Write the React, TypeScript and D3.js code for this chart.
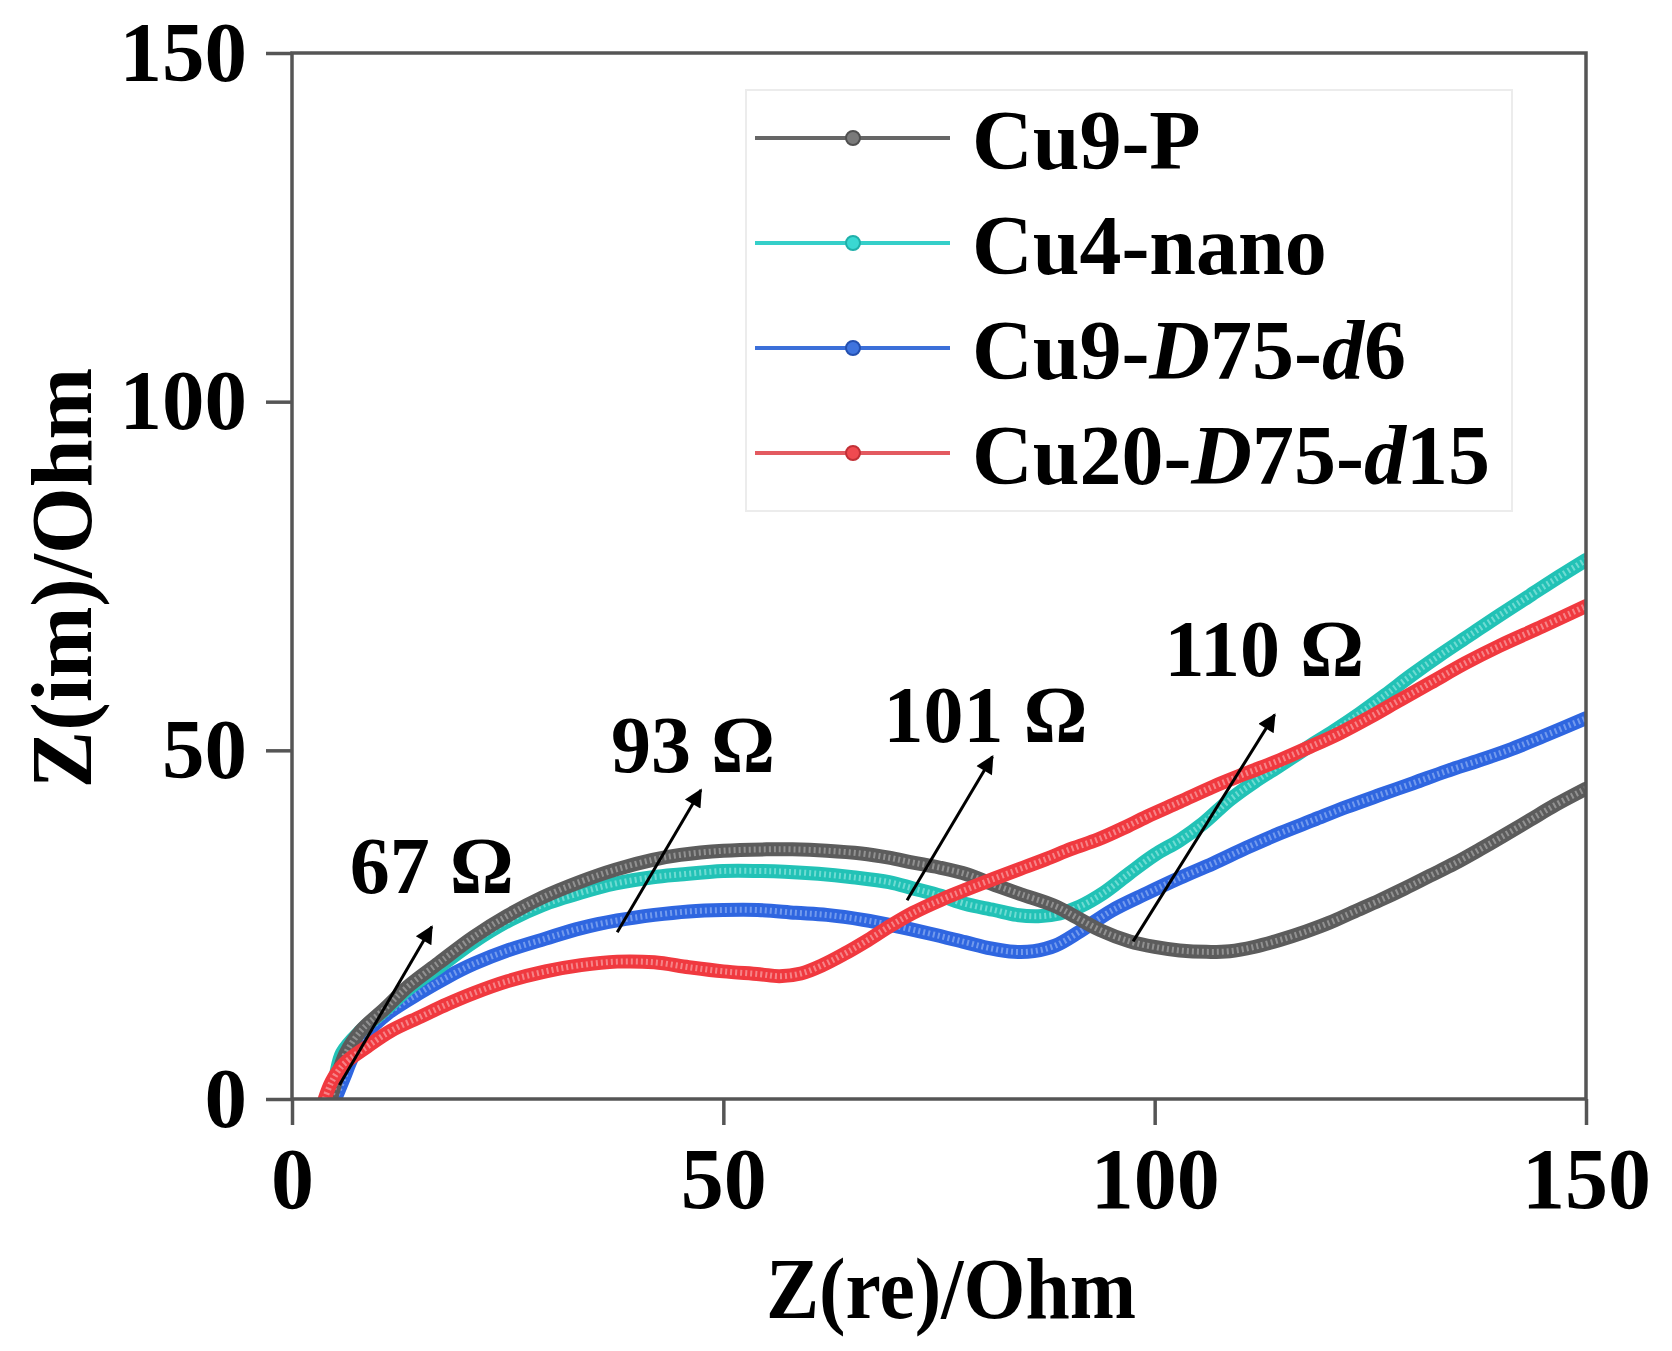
import * as d3 from "d3";
import { useEffect, useRef } from "react";

// ---- data (Z(re), Z(im)) in Ohm ----
const seriesNames = ["Cu9-P", "Cu4-nano", "Cu9-D75-d6", "Cu20-D75-d15"];

const cu9P: [number, number][] = [
  [4.5, 0], [5.2, 3], [6.2, 6.5], [8, 9.8], [10.8, 13], [13.5, 16.2], [17, 19.5],
  [21, 23.2], [25, 26.3], [29, 28.9], [33.5, 31.2], [37.5, 32.9], [41.8, 34.3],
  [45, 35.0], [50, 35.6], [55, 35.8], [58, 35.8], [62, 35.6], [66, 35.2], [69.2, 34.6],
  [72, 33.9], [75, 33.2], [78.3, 32.2], [81, 30.9], [84.4, 29.4], [88.6, 27.6],
  [91, 26], [93.7, 24.2], [97.1, 22.6], [100, 21.8], [102.9, 21.3], [106, 21.1],
  [108.7, 21.2], [111.5, 21.8], [114.5, 22.8], [117.5, 24], [120.3, 25.3], [123, 26.8],
  [126.1, 28.5], [129, 30.2], [131.9, 32], [134.8, 33.8], [137.7, 35.8], [140.5, 37.8],
  [143.5, 40], [146.5, 42.2], [150, 44.5],
];

const cu4Nano: [number, number][] = [
  [4.2, 0], [5, 3], [5.8, 6.6], [8, 9.8], [10.8, 12.8], [13.5, 15.8], [17, 18.9],
  [21, 22.5], [25.3, 25.7], [29, 27.8], [33.5, 29.6], [37.5, 30.9], [41.8, 31.8],
  [45, 32.2], [50, 32.7], [54.2, 32.7], [57.1, 32.6], [61, 32.3], [65, 31.8],
  [69.2, 31.1], [72, 30.2], [75.3, 29.1], [78, 28.0], [81.4, 27.1], [84, 26.4],
  [86.5, 26.2], [89, 26.6], [91.3, 27.6], [94, 29.5], [97.1, 32.4], [100, 35],
  [102.9, 37.1], [105.6, 39.5], [108.7, 42.9], [111.6, 45.5], [114.5, 47.8],
  [117.7, 50.4], [120.8, 52.8], [123.8, 55.3], [126.8, 58.0], [129.8, 60.8],
  [133, 63.6], [136.5, 66.5], [140, 69.4], [143.5, 72.2], [147, 75], [150, 77.3],
];

const cu9D75d6: [number, number][] = [
  [5, 0], [6, 3], [7, 6], [8.7, 9.5], [11, 12.2], [14.9, 15.3], [18, 17.5],
  [21.1, 19.4], [25, 21.3], [29.4, 23], [33.5, 24.5], [37.7, 25.6], [42, 26.4],
  [46, 26.9], [50, 27.1], [54, 27.1], [58.4, 26.7], [62, 26.4], [66.2, 25.7],
  [70, 24.8], [74, 23.7], [78, 22.5], [81, 21.6], [83.7, 21.1], [86, 21.2],
  [88.5, 22.0], [91.3, 24.0], [95, 27.0], [99.1, 29.5], [102.9, 31.7], [106.8, 33.8],
  [110.6, 36], [114.5, 38.1], [118.4, 40], [122.3, 41.9], [126.1, 43.6], [130, 45.3],
  [133.8, 47], [137.7, 48.6], [141.4, 50.2], [145, 52.0], [150, 54.6],
];

const cu20D75d15: [number, number][] = [
  [3.8, 0], [4.6, 2.5], [6, 5], [8.7, 7.5], [11.5, 9.8], [14.9, 11.8], [18, 13.6],
  [21.1, 15.2], [25, 16.9], [29.4, 18.3], [33.5, 19.2], [37.7, 19.7], [42, 19.6],
  [46, 18.9], [50, 18.3], [54.2, 17.9], [56.5, 17.6], [59, 18.0], [61.5, 19.2],
  [64, 20.8], [66.5, 22.6], [69.2, 24.7], [72, 26.7], [75.3, 28.6], [78.3, 30.1],
  [81.4, 31.6], [84.4, 33.0], [87.4, 34.4], [90.4, 35.9], [93.4, 37.2], [96.3, 38.8],
  [99.1, 40.5], [102.9, 42.6], [106.8, 44.8], [110.6, 46.7], [114.5, 48.6],
  [118, 50.5], [121.5, 52.5], [125, 54.8], [128.4, 57.2], [132, 59.7], [136, 62.5],
  [140, 65.0], [145, 67.8], [150, 70.7],
];

const xTicks = [0, 50, 100, 150];
const yTicks = [0, 50, 100, 150];
const minorTicks = [25, 75, 125];

// annotation labels (position in data units) and arrows [tail, head]
const annoLabels = ["67 Ω", "93 Ω", "101 Ω", "110 Ω"];
const annoPos: [number, number][] = [[16.2, 29.5], [46.5, 46.9], [80.4, 51.2], [112.7, 60.6]];
const arrowTail: [number, number][] = [[5.5, 2.0], [37.7, 23.9], [71.3, 28.5], [97.5, 22.6]];
const arrowHead: [number, number][] = [[16.2, 24.7], [47.4, 44.3], [81.2, 49.1], [113.9, 55.1]];

const FONT = "'Liberation Serif', 'Times New Roman', serif";

export default function App() {
  const svgRef = useRef<SVGSVGElement | null>(null);
  useEffect(() => {
    if (!svgRef.current) return;
    drawNyquist(svgRef.current);
  }, []);
  return (
    <svg
      ref={svgRef}
      width={1672}
      height={1351}
      style={{ position: "absolute", left: 0, top: 0, background: "#fff" }}
    />
  );
}

function drawNyquist(svgElement: SVGSVGElement) {
  const svg = d3.select(svgElement);
  svg.selectAll("*").remove();

  const left = 292, right = 1586, top = 53, bottom = 1099;

  const x = d3.scaleLinear().domain([0, 150]).range([left, right]);
  const y = d3.scaleLinear().domain([0, 150]).range([bottom, top]);

  const axisColor = "#555";

  // clip
  svg.append("defs").append("clipPath").attr("id", "plotclip")
    .append("rect").attr("x", left).attr("y", top)
    .attr("width", right - left).attr("height", bottom - top);

  // --- curves ---
  const line = d3.line<[number, number]>()
    .x(d => x(d[0]))
    .y(d => y(d[1]))
    .curve(d3.curveCatmullRom.alpha(0.5));

  const curves = [
    { data: cu9D75d6, color: "#2f66e0", light: "#8fb0f2" },
    { data: cu4Nano, color: "#22c2b6", light: "#8fe6de" },
    { data: cu9P, color: "#5c5c5c", light: "#a8a8a8" },
    { data: cu20D75d15, color: "#f0393f", light: "#f8a3a6" },
  ];

  const plot = svg.append("g").attr("clip-path", "url(#plotclip)");
  curves.forEach(c => {
    plot.append("path").datum(c.data)
      .attr("d", line)
      .attr("fill", "none")
      .attr("stroke", c.color)
      .attr("stroke-width", 14)
      .attr("stroke-linecap", "round")
      .attr("stroke-linejoin", "round");
    // marker texture (dense open circles)
    plot.append("path").datum(c.data)
      .attr("d", line)
      .attr("fill", "none")
      .attr("stroke", c.light)
      .attr("stroke-width", 6)
      .attr("stroke-dasharray", "2 3")
      .attr("opacity", 0.7);
  });

  // --- frame ---
  svg.append("rect")
    .attr("x", left).attr("y", top)
    .attr("width", right - left).attr("height", bottom - top)
    .attr("fill", "none").attr("stroke", axisColor).attr("stroke-width", 3.5);

  // --- X axis ---
  const xAxis = svg.append("g").attr("transform", `translate(0,${bottom})`);
  xAxis.call(
    d3.axisBottom(x).tickValues(minorTicks).tickSize(14).tickFormat(() => "")
  );
  xAxis.call(
    d3.axisBottom(x).tickValues(xTicks).tickSize(26).tickPadding(22)
      .tickFormat(d => String(d))
  );
  xAxis.selectAll(".domain").remove();
  xAxis.selectAll("line").attr("stroke", axisColor).attr("stroke-width", 3.5);
  xAxis.selectAll("text")
    .attr("dy", "0.71em")
    .style("font-family", FONT)
    .style("font-weight", "bold")
    .style("font-size", "86px")
    .style("fill", "#000");

  // --- Y axis ---
  const yAxis = svg.append("g").attr("transform", `translate(${left},0)`);
  yAxis.call(
    d3.axisLeft(y).tickValues(minorTicks).tickSize(13).tickFormat(() => "")
  );
  yAxis.call(
    d3.axisLeft(y).tickValues(yTicks).tickSize(26).tickPadding(19)
      .tickFormat(d => String(d))
  );
  yAxis.selectAll(".domain").remove();
  yAxis.selectAll("line").attr("stroke", axisColor).attr("stroke-width", 3.5);
  yAxis.selectAll("text")
    .style("font-family", FONT)
    .style("font-weight", "bold")
    .style("font-size", "85px")
    .style("fill", "#000");

  // --- axis titles ---
  svg.append("text")
    .attr("x", 951)
    .attr("y", 1318)
    .attr("text-anchor", "middle")
    .attr("textLength", 370)
    .attr("lengthAdjust", "spacingAndGlyphs")
    .style("font-family", FONT)
    .style("font-weight", "bold")
    .style("font-size", "86px")
    .text("Z(re)/Ohm");

  svg.append("text")
    .attr("transform", `translate(91,${(top + bottom) / 2 + 2}) rotate(-90)`)
    .attr("text-anchor", "middle")
    .style("font-family", FONT)
    .style("font-weight", "bold")
    .style("font-size", "86px")
    .text("Z(im)/Ohm");

  // --- annotations ---
  svg.append("defs").append("marker")
    .attr("id", "arrowhead")
    .attr("viewBox", "0 0 10 10")
    .attr("refX", 9).attr("refY", 5)
    .attr("markerWidth", 7).attr("markerHeight", 6)
    .attr("markerUnits", "strokeWidth")
    .attr("orient", "auto")
    .append("path").attr("d", "M0,0 L10,5 L0,10 Z").attr("fill", "#000");

  arrowTail.forEach((t, i) => {
    svg.append("line")
      .attr("x1", x(t[0])).attr("y1", y(t[1]))
      .attr("x2", x(arrowHead[i][0])).attr("y2", y(arrowHead[i][1]))
      .attr("stroke", "#000").attr("stroke-width", 3)
      .attr("marker-end", "url(#arrowhead)");
  });

  annoLabels.forEach((label, i) => {
    svg.append("text")
      .attr("x", x(annoPos[i][0]))
      .attr("y", y(annoPos[i][1]))
      .attr("text-anchor", "middle")
      .style("font-family", FONT)
      .style("font-weight", "bold")
      .style("font-size", "80px")
      .text(label);
  });

  // --- legend ---
  const legendColors = [
    { line: "#666666", fill: "#7a7a7a", stroke: "#505050" },
    { line: "#35cfc9", fill: "#3ad8d2", stroke: "#1fb0aa" },
    { line: "#3b6fd9", fill: "#3f74de", stroke: "#2450b0" },
    { line: "#e35a60", fill: "#f04a50", stroke: "#c23036" },
  ];
  const legend = svg.append("g");
  legend.append("rect")
    .attr("x", 746).attr("y", 90).attr("width", 766).attr("height", 421)
    .attr("fill", "#fff").attr("stroke", "#ececec").attr("stroke-width", 2);

  const rowY = d3.scalePoint<string>().domain(seriesNames).range([138, 453]);

  seriesNames.forEach((name, i) => {
    const ry = rowY(name)!;
    const c = legendColors[i];
    legend.append("line")
      .attr("x1", 755).attr("x2", 950).attr("y1", ry).attr("y2", ry)
      .attr("stroke", c.line).attr("stroke-width", 4);
    legend.append("circle")
      .attr("cx", 853).attr("cy", ry).attr("r", 7)
      .attr("fill", c.fill).attr("stroke", c.stroke).attr("stroke-width", 2);

    const t = legend.append("text")
      .attr("x", 972).attr("y", ry + 31)
      .style("font-family", FONT)
      .style("font-weight", "bold")
      .style("font-size", "84px");
    if (name === "Cu9-P" || name === "Cu4-nano") {
      t.text(name);
      return;
    }
    // italic parts: D and d
    name.split(/(D|d)/).forEach(p => {
      if (p === "") return;
      const ts = t.append("tspan").text(p);
      if (p === "D" || p === "d") ts.style("font-style", "italic");
    });
  });
}
